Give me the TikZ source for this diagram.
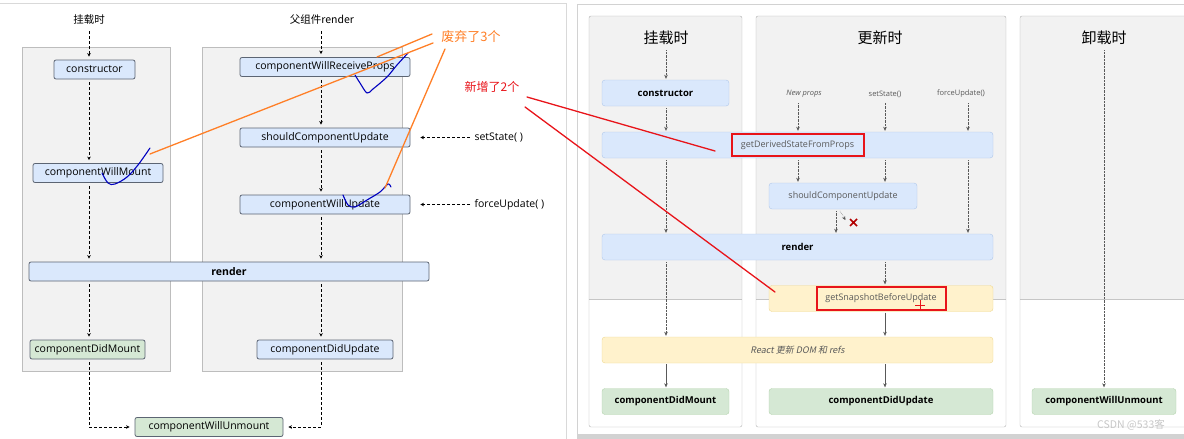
\documentclass[tikz,border=0pt]{standalone}
\usepackage{fontspec}
\setmainfont{Open Sans}
\newfontfamily\cjk{Noto Sans CJK SC}
\newfontfamily\cjkit[FakeSlant=0.2]{Noto Sans CJK SC}
\usetikzlibrary{positioning, arrows.meta}
\definecolor{boxgray}{HTML}{F2F2F2}
\definecolor{framegray}{HTML}{BDBDBD}
\definecolor{blockblue}{HTML}{DAE8FC}
\definecolor{oldline}{HTML}{5C6573}
\definecolor{newline}{HTML}{AFC8EA}
\definecolor{blockgreen}{HTML}{D5E8D4}
\definecolor{greenline}{HTML}{B5D3AE}
\definecolor{blockyellow}{HTML}{FFF2CC}
\definecolor{yellowline}{HTML}{EED88F}
\definecolor{annorange}{HTML}{FF7F27}
\definecolor{annred}{HTML}{E8141A}
\tikzstyle{oldblock} = [rectangle, draw=oldline, line width=0.8pt, fill=blockblue, rounded corners=2pt,
                 minimum height=19pt, inner sep=0pt, font=\fontsize{10.5}{12}\selectfont]
\tikzstyle{newblock} = [rectangle, draw=newline, fill=blockblue, rounded corners=3pt,
                 minimum height=26pt, inner sep=0pt, font=\fontsize{9.5}{11}\selectfont\bfseries]
\tikzstyle{phase} = [fill=boxgray, draw=framegray]
\tikzset{
	darr/.style={densely dashed, line width=0.9pt, shorten <=3pt, shorten >=3pt,
		-{Stealth[length=3.5pt, width=3.5pt]}},
	rarr/.style={densely dotted, gray!70!black, shorten <=2pt, shorten >=1pt,
		-{Stealth[length=4pt, width=3.5pt]}},
	sarr/.style={gray!70!black, shorten <=1pt, shorten >=1pt,
		-{Stealth[length=4pt, width=3.5pt]}},
	annoline/.style={line width=1.3pt, line cap=round},
	scribble/.style={blue!75!black, line width=1.1pt, line cap=round, line join=round},
	thin text/.style={font=\fontsize{9}{11}\selectfont, text=black!65},
}

\begin{document}
\begin{tikzpicture}[x=1pt, y=-1pt]
\useasboundingbox (0,0) rectangle (1184,439);

% screenshot frames
\draw[gray!30] (0,3) -- (566,3) -- (566,439);
\draw[gray!35] (577,439) -- (577,4) -- (1184,4);
\fill[gray!35] (577,434) rectangle (1184,439);

%%% old lifecycle
\draw[phase] (22,47) rectangle (170,371);
\draw[phase] (202,47) rectangle (402,371);
\coordinate (mx) at (89,0);
\coordinate (ux) at (321,0);

\node[font=\cjk\fontsize{10.5}{12}\selectfont] (lmount) at (89,20) {挂载时};
\node[font=\cjk\fontsize{10.5}{12}\selectfont] (lparent) at (322,20) {父组件render};

\node [oldblock, minimum width=81pt] (cons) at (94.5,69.5) {constructor};
\node [oldblock, minimum width=130pt] (cwm) at (98,173) {componentWillMount};
\node [oldblock, minimum width=400pt, font=\fontsize{10.5}{12}\selectfont\bfseries] (lrender) at (229,271.5) {render};
\node [oldblock, fill=blockgreen, minimum width=115pt] (cdm) at (87.5,349.5) {componentDidMount};
\node [oldblock, minimum width=170pt] (cwrp) at (325,67) {componentWillReceiveProps};
\node [oldblock, minimum width=170pt] (scu) at (325,137.5) {shouldComponentUpdate};
\node [oldblock, minimum width=170pt] (cwu) at (325,204.5) {componentWillUpdate};
\node [oldblock, minimum width=136pt] (cdu) at (325,349.5) {componentDidUpdate};
\node [oldblock, fill=blockgreen, minimum width=148pt] (cwun) at (209,427) {componentWillUnmount};
\node [anchor=west, font=\fontsize{10.5}{12}\selectfont] (lset) at (471,137.5) {setState( )};
\node [anchor=west, font=\fontsize{10.5}{12}\selectfont] (lforce) at (471,204.5) {forceUpdate( )};

\foreach \a/\b in {lmount/cons, cons/cwm, cwm/lrender, lrender/cdm}
	\draw[darr] (\a.south -| mx) -- (\b.north -| mx);
\foreach \a/\b in {lparent/cwrp, cwrp/scu, scu/cwu, cwu/lrender, lrender/cdu}
	\draw[darr] (\a.south -| ux) -- (\b.north -| ux);
\draw[darr, shorten >=5pt] (cdm.south -| mx) |- (cwun.west);
\draw[darr, shorten >=5pt] (cdu.south -| ux) |- (cwun.east);
\draw[darr, shorten <=1pt, shorten >=10pt] (lset.west) -- (scu.east);
\draw[darr, shorten <=1pt, shorten >=10pt] (lforce.west) -- (cwu.east);

% hand marks
\draw[scribble] plot[smooth, tension=0.6] coordinates {(102,173) (108,183) (115,184) (127,177) (138,165) (150,148)};
\draw[scribble] plot[smooth, tension=0.5] coordinates {(355,75) (360,83) (367,93) (373,89) (387,77) (397,65) (408,53)};
\draw[scribble] plot[smooth, tension=0.5] coordinates {(343,195) (348,205) (355,207) (367,200) (380,192) (388,184) (391,187)};

%%% new lifecycle
\foreach \l/\r in {589/742, 756/1006, 1020/1200} {
	\fill[boxgray] (\l,16) rectangle (\r,299);
	\draw[gray!45] (\l,299) -- (\r,299);
	\draw[gray!60, rounded corners=2pt] (\l,16) rectangle (\r,427);
}
\coordinate (rmx) at (666,0);
\coordinate (npx) at (798,0);
\coordinate (ssx) at (885,0);
\coordinate (fux) at (968,0);
\coordinate (skx) at (836,0);
\coordinate (rux) at (1104,0);

\node[font=\cjk\fontsize{15}{17}\selectfont] (rmount) at (666,38) {挂载时};
\node[font=\cjk\fontsize{15}{17}\selectfont] (rupdate) at (880,38) {更新时};
\node[font=\cjk\fontsize{15}{17}\selectfont] (runmount) at (1104,38) {卸载时};

\node[thin text, font=\fontsize{7.5}{9}\selectfont\itshape] (newprops) at (804,94) {New props};
\node[thin text, font=\fontsize{7.5}{9}\selectfont] (setst) at (885,94) {setState()};
\node[thin text, font=\fontsize{7.5}{9}\selectfont] (forceup) at (961,94) {forceUpdate()};

\node [newblock, minimum width=127pt] (rcons) at (665.5,93) {constructor};
\node [newblock, minimum width=391pt, thin text] (gdsfp) at (797.5,145) {getDerivedStateFromProps};
\node [newblock, minimum width=148pt, thin text] (rscu) at (843,196) {shouldComponentUpdate};
\node [newblock, minimum width=391pt] (rrender) at (797.5,247) {render};
\node [newblock, fill=blockyellow, draw=yellowline, minimum width=224pt, thin text] (gsbu) at (881,298.5) {getSnapshotBeforeUpdate};
\node [newblock, fill=blockyellow, draw=yellowline, minimum width=391pt, thin text,
	font=\cjkit\fontsize{9}{10}\selectfont] (rdom) at (797.5,350) {React 更新 DOM 和 refs};
\node [newblock, fill=blockgreen, draw=greenline, minimum width=127pt] (rcdm) at (665.5,401.5) {componentDidMount};
\node [newblock, fill=blockgreen, draw=greenline, minimum width=224pt] (rcdu) at (881,401.5) {componentDidUpdate};
\node [newblock, fill=blockgreen, draw=greenline, minimum width=144pt] (rcwu) at (1104,401.5) {componentWillUnmount};

\foreach \a/\b in {rmount/rcons, rcons/gdsfp, gdsfp/rrender, rrender/rdom}
	\draw[rarr] (\a.south -| rmx) -- (\b.north -| rmx);
\foreach \a/\b in {newprops/gdsfp, gdsfp/rscu}
	\draw[rarr] (\a.south -| npx) -- (\b.north -| npx);
\foreach \a/\b in {setst/gdsfp, gdsfp/rscu, rrender/gsbu}
	\draw[rarr] (\a.south -| ssx) -- (\b.north -| ssx);
\foreach \a/\b in {forceup/gdsfp, gdsfp/rrender}
	\draw[rarr] (\a.south -| fux) -- (\b.north -| fux);
\draw[rarr] (rscu.south -| skx) -- (rrender.north -| skx);
\draw[rarr] (runmount.south -| rux) -- (rcwu.north -| rux);
\draw[sarr] (rdom.south -| rmx) -- (rcdm.north -| rmx);
\draw[sarr] (gsbu.south -| ssx) -- (rdom.north -| ssx);
\draw[sarr] (rdom.south -| ssx) -- (rcdu.north -| ssx);
\coordinate (skip) at (846,221);
\draw[rarr] ([xshift=-4pt]rscu.south) -- (skip);
\draw[red!70!black, line width=1.6pt] (850,219) -- (857,226) (850,226) -- (857,219);

%%% notes
\node[text=annorange, font=\cjk\fontsize{13}{15}\selectfont] (dropped) at (471,37) {废弃了3个};
\coordinate (d1) at (432,34);
\coordinate (d2) at (433,43);
\coordinate (d3) at (445,49);
\coordinate (e1) at (377,57);
\coordinate (e2) at (150,154);
\coordinate (e3) at (385,188);
\draw[annoline, annorange] (d1) -- (e1) (d2) -- (e2) (d3) -- (e3);

\node[text=annred, font=\cjk\fontsize{12}{14}\selectfont] (added) at (492,87) {新增了2个};
\coordinate (a1) at (527,97);
\coordinate (a2) at (525,107);
\coordinate (f1) at (715,151);
\coordinate (f2) at (775,292);
\draw[annoline, annred] (a1) -- (f1) (a2) -- (f2);
\draw[annred, line width=1.3pt] (732,134) rectangle (864,156);
\draw[annred, line width=1.3pt] (817,287) rectangle (946,310);
\draw[annred, line width=1pt] (915,305) -- (925,305) (920,300) -- (920,310);

\node[text=gray!45, font=\cjk\fontsize{10.5}{12}\selectfont] (wmk) at (1131,425) {CSDN @533客};

\end{tikzpicture}
\end{document}
